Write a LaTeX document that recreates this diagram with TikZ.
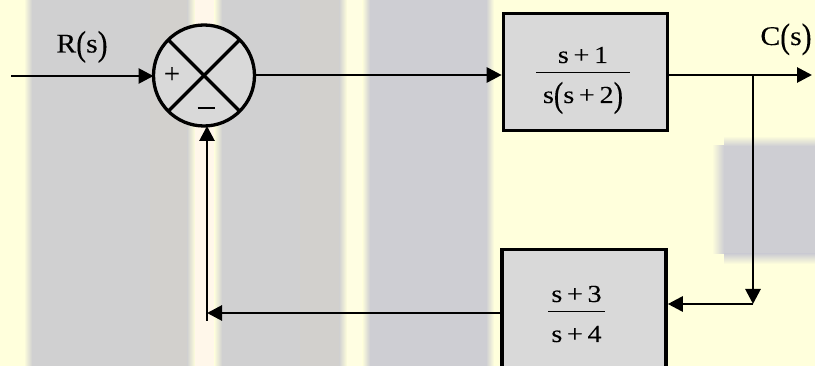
\documentclass[tikz,border=0pt]{standalone}
\usepackage{fontspec}
\usepackage{graphicx}
\setmainfont{Liberation Serif}[FakeBold=0.15]
\usetikzlibrary{arrows.meta}

\definecolor{bgy}{HTML}{FFFFDC}
\definecolor{bgg}{HTML}{D0D0D1}
\definecolor{bgw}{HTML}{D2D0CD}
\definecolor{bgb}{HTML}{CECED3}
\definecolor{bgc}{HTML}{FFF7EA}
\definecolor{bgl}{HTML}{FFFEE2}
\definecolor{boxfill}{HTML}{D9D9D9}

% slightly widened serif text and tall parentheses
\newcommand\hs[1]{\scalebox{1.15}[1]{#1}}
\newcommand\hl[1]{\scalebox{1.1}[1]{#1}}
\newcommand\tp[1]{\raisebox{-2.8pt}{\scalebox{1}[1.3]{#1}}}
\newcommand\tq[1]{\raisebox{-3.5pt}{\scalebox{1}[1.45]{#1}}}

% vertical band with soft left and right edges
\newcommand\softband[5]{%
  \fill[#5] (#1+4,#3) rectangle (#2-4,#4);
  \shade[left color=bgy, right color=#5] (#1-4,#3) rectangle (#1+4,#4);
  \shade[left color=#5, right color=bgy] (#2-4,#3) rectangle (#2+4,#4);
}

\begin{document}
\begin{tikzpicture}[x=1pt, y=-1pt,
  conn/.style={line width=2.8pt, -{Triangle[length=15pt,width=15pt]}},
  blk/.style={draw, line width=3.6pt, fill=boxfill, rectangle,
    minimum width=164pt, minimum height=117pt, inner sep=0pt},
  lbl/.style={inner sep=0pt, font=\fontsize{27}{31}\selectfont},
  frac/.style={inner sep=0pt, font=\fontsize{24.5}{28}\selectfont},
  bar/.style={line width=1.3pt}]

% background
\useasboundingbox (0,0) rectangle (815,366);
\fill[bgy] (0,0) rectangle (815,366);
\softband{28}{191}{0}{366}{bgg}
\fill[bgw] (150,0) rectangle (187,366);
\softband{218}{343}{0}{366}{bgg}
\fill[bgw] (300,0) rectangle (339,366);
\softband{366}{490}{0}{366}{bgb}
\fill[bgc] (195,0) rectangle (214,366);
\fill[bgl] (347,0) rectangle (362,366);
\fill[bgb] (724,146) rectangle (815,254);
\shade[left color=bgy, right color=bgb] (712,146) rectangle (724,254);
\shade[top color=bgy, bottom color=bgb] (724,136) rectangle (815,146);
\shade[top color=bgb, bottom color=bgy] (724,254) rectangle (815,264);

% summing junction
\node[draw, circle, line width=3.3pt, fill=boxfill, minimum size=101pt,
  outer sep=0pt, inner sep=0pt] (sum) at (204,75.5) {};
\draw[line width=3.3pt] (sum.45) -- (sum.225);
\draw[line width=3.3pt] (sum.135) -- (sum.-45);
\node[inner sep=0pt, font=\fontsize{28}{32}\selectfont] (plus) at (172,75) {+};
\node[inner sep=0pt] (minus) at (206,108) {\rule{17pt}{1.1pt}};

% blocks
\node[blk] (g1) at (585.5,72) {};
\node[blk, minimum height=124pt] (g2) at (584,311.5) {};

% transfer functions
\node[frac, anchor=base] (n1) at (583,63) {\hs{s\,+\,1}};
\node[frac, anchor=base] (d1) at (583,103) {\hs{s\tq{(}s\,+\,2\tq{)}}};
\draw[bar] (536,72.7) -- (630,72.7);
\node[frac, anchor=base] (n2) at (576.5,302) {\hs{s\,+\,3}};
\node[frac, anchor=base] (d2) at (576.5,342) {\hs{s\,+\,4}};
\draw[bar] (548,311.7) -- (605,311.7);

% signal labels
\node[lbl, anchor=base] (rs) at (82,52.5) {\hl{R\tp{(}s\tp{)}}};
\node[lbl, anchor=base] (cs) at (786,45) {\hl{C\tp{(}s\tp{)}}};

% connection points
\coordinate (in) at (11,76);
\coordinate (out) at (812,75);
\coordinate (br) at (753,75);
\coordinate (corner) at (753,304);
\coordinate (fb) at (207,313);
\coordinate (fbend) at (207,321);

% forward path
\draw[conn] (in) -- (in -| sum.west);
\draw[conn] (sum.east |- br) -- (br -| g1.west);
\draw[conn] (g1.east |- out) -- (out);

% feedback path
\draw[conn] (br) -- (corner);
\draw[conn] (corner) -- (corner -| g2.east);
\draw[conn] (g2.west |- fb) -- (fb);
\draw[conn] (fbend) -- (fbend |- sum.south);
\end{tikzpicture}
\end{document}
